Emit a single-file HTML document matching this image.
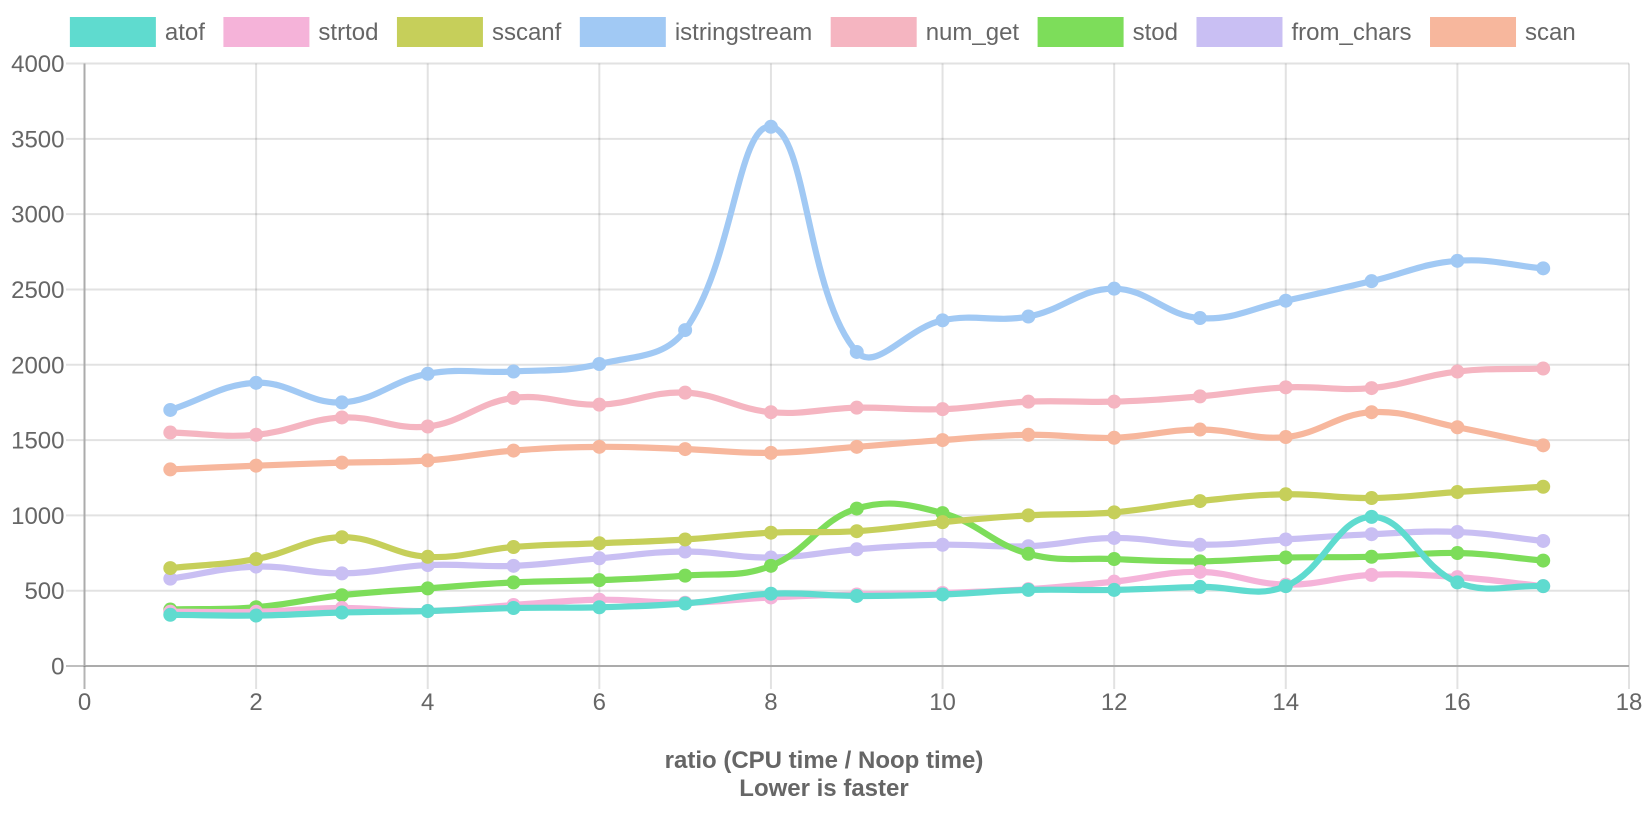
<!DOCTYPE html>
<html lang="en">
<head>
<meta charset="utf-8">
<title>ratio (CPU time / Noop time)</title>
<style>
html,body{margin:0;padding:0;background:#fff;width:1648px;height:824px;overflow:hidden}
svg{display:block}
text{font-family:"Liberation Sans",Arial,sans-serif;fill:#666;font-size:24px}
</style>
</head>
<body>
<svg id="chart" xmlns="http://www.w3.org/2000/svg" width="1648" height="824" viewBox="0 0 1648 824"></svg>
<script>
const seriesNames = ["atof","strtod","sscanf","istringstream","num_get","stod","from_chars","scan"];
const seriesColors = ["#5fdbcf","#f5b3d9","#c6cf5a","#a1c9f4","#f5b5c1","#7ddd5a","#c9bff3","#f7b79d"];
const xCategories = [1,2,3,4,5,6,7,8,9,10,11,12,13,14,15,16,17];
const atof = [340,335,355,365,385,390,415,480,465,475,505,505,525,530,990,555,530];
const strtod = [360,360,385,365,405,440,420,455,475,485,510,560,625,540,605,590,530];
const sscanf = [650,710,855,725,790,815,840,885,895,955,1000,1020,1095,1140,1115,1155,1190];
const istringstream = [1700,1880,1750,1940,1955,2005,2230,3580,2085,2295,2320,2505,2310,2425,2555,2690,2640];
const num_get = [1550,1535,1650,1590,1780,1735,1815,1685,1715,1705,1755,1755,1790,1850,1845,1955,1975];
const stod = [375,390,470,515,555,570,600,665,1045,1015,745,710,695,720,725,750,700];
const from_chars = [580,660,615,670,665,715,760,720,775,805,795,850,805,840,875,890,830];
const scan = [1305,1330,1350,1365,1430,1455,1440,1415,1455,1500,1535,1515,1570,1520,1685,1585,1465];
const seriesValues = [atof,strtod,sscanf,istringstream,num_get,stod,from_chars,scan];
const xTicks = [0,2,4,6,8,10,12,14,16,18];
const yTicks = [0,500,1000,1500,2000,2500,3000,3500,4000];
const titleLines = ["ratio (CPU time / Noop time)","Lower is faster"];

const NS = "http://www.w3.org/2000/svg";
const svg = document.getElementById("chart");
const plot = {left:84.5,right:1629,top:63.5,bottom:666};
const xMax = 18, yMax = 4000;
function xScale(v){return plot.left + v/xMax*(plot.right-plot.left);}
function yScale(v){return plot.bottom - v/yMax*(plot.bottom-plot.top);}
function make(tag, attrs, parent){
  const el = document.createElementNS(NS, tag);
  for (const k in attrs) el.setAttribute(k, attrs[k]);
  (parent||svg).appendChild(el);
  return el;
}
const slug = s => s.replace(/_/g,"-");

/* grid */
const gridGroup = make("g",{});


yTicks.forEach(t=>{
  const y = yScale(t);
  if (t !== 0) {
    const line = make("line",{x1:66,x2:plot.right,y1:y,y2:y,stroke:"rgba(0,0,0,0.115)","stroke-width":2},gridGroup);
    
    
  } else {
    const tick = make("line",{x1:66,x2:plot.left,y1:y,y2:y,stroke:"rgba(0,0,0,0.25)","stroke-width":2},gridGroup);
    
    
  }
});
xTicks.forEach(t=>{
  const x = xScale(t);
  const line = make("line",{x1:x,x2:x,y1:plot.top,y2:689,stroke:"rgba(0,0,0,0.115)","stroke-width":2},gridGroup);
  
  
});
const xAxisLine = make("line",{x1:plot.left,x2:plot.right,y1:plot.bottom,y2:plot.bottom,stroke:"#ababab","stroke-width":2});


const yAxisLine = make("line",{x1:plot.left,x2:plot.left,y1:plot.top,y2:plot.bottom,stroke:"#ababab","stroke-width":2});


const yAxisTail = make("line",{x1:plot.left,x2:plot.left,y1:plot.bottom,y2:689,stroke:"rgba(0,0,0,0.2)","stroke-width":2});



/* tick labels */
yTicks.forEach(t=>{
  const label = make("text",{x:64.5,y:yScale(t)+8.5,"text-anchor":"end"});
  label.textContent = t;
  
  
});
xTicks.forEach(t=>{
  const label = make("text",{x:xScale(t),y:710,"text-anchor":"middle"});
  label.textContent = t;
  
  
});

/* series: chart.js bezier with tension 0.4, first dataset painted last */
function splinePath(points){
  const tension = 0.4;
  let d = "M"+points[0].x+" "+points[0].y;
  const ctrl = points.map((p,i)=>{
    const prev = points[Math.max(i-1,0)], next = points[Math.min(i+1,points.length-1)];
    const d01 = Math.hypot(p.x-prev.x,p.y-prev.y), d12 = Math.hypot(next.x-p.x,next.y-p.y);
    const sum = d01+d12 || 1;
    const fa = tension*d01/sum, fb = tension*d12/sum;
    return {
      px:p.x-fa*(next.x-prev.x), py:p.y-fa*(next.y-prev.y),
      nx:p.x+fb*(next.x-prev.x), ny:p.y+fb*(next.y-prev.y)
    };
  });
  for (let i=1;i<points.length;i++){
    d += " C"+ctrl[i-1].nx+" "+ctrl[i-1].ny+" "+ctrl[i].px+" "+ctrl[i].py+" "+points[i].x+" "+points[i].y;
  }
  return d;
}
for (let s=seriesNames.length-1;s>=0;s--){
  const values = seriesValues[s];
  const color = seriesColors[s];
  const points = values.map((v,i)=>({x:xScale(xCategories[i]),y:yScale(v)}));
  const group = make("g",{});
  
  
  const path = make("path",{d:splinePath(points),fill:"none",stroke:color,"stroke-width":6.2},group);
  
  
  points.forEach(p=>{
    const dot = make("circle",{cx:p.x,cy:p.y,r:7,fill:color},group);
    
    
  });
}

/* legend */
const legend = make("g",{});


const entries = seriesNames.map((name,i)=>{
  const entry = make("g",{},legend);
  
  
  const swatch = make("rect",{x:0,y:17,width:86,height:30,fill:seriesColors[i]},entry);
  
  
  const label = make("text",{x:95,y:40},entry);
  label.textContent = name;
  
  
  return {entry,width:95+label.getComputedTextLength()};
});
const legendGap = 18.5;
const legendWidth = entries.reduce((a,e)=>a+e.width,0)+legendGap*(entries.length-1);
let legendX = 822.8-legendWidth/2;
entries.forEach(e=>{
  e.entry.setAttribute("transform","translate("+legendX+" 0)");
  legendX += e.width+legendGap;
});

/* axis title */
titleLines.forEach((line,i)=>{
  const title = make("text",{x:824,y:768+i*28,"text-anchor":"middle","font-weight":"bold"});
  title.textContent = line;
  
  
});
</script>
</body>
</html>
